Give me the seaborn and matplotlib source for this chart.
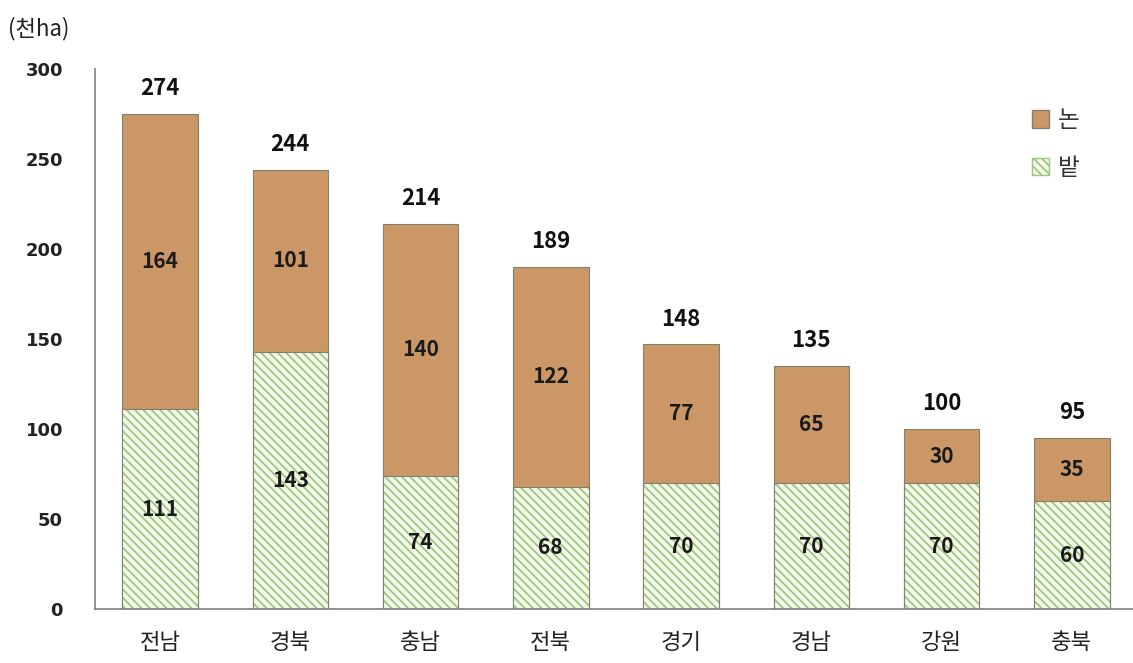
import matplotlib
matplotlib.use('Agg')
import matplotlib.pyplot as plt
import matplotlib.patches as mpatches
import seaborn as sns
import pandas as pd

regions = ['전남', '경북', '충남', '전북', '경기', '경남', '강원', '충북']
paddy = [164, 101, 140, 122, 77, 65, 30, 35]   # 논
field = [111, 143, 74, 68, 70, 70, 70, 60]     # 밭
totals = [274, 244, 214, 189, 148, 135, 100, 95]

paddy_color = '#CB9766'
field_face = '#F4F8EC'
field_hatch = '#9DC77A'
edge = '#80806E'

sns.set_theme(style='white')
plt.rcParams['font.family'] = ['Noto Sans CJK KR', 'DejaVu Sans']
plt.rcParams['hatch.linewidth'] = 1.3

df = pd.DataFrame({'region': regions, 'paddy': paddy, 'field': field})
df['stack'] = df['paddy'] + df['field']

fig = plt.figure(figsize=(11.33, 6.63), dpi=100)
ax = fig.add_axes([0.0838, 0.0814, 0.9162, 0.8146])

# total height bar (논 on top), then 밭 over it
sns.barplot(data=df, x='region', y='stack', color=paddy_color, width=0.58,
            edgecolor=edge, linewidth=0.8, saturation=1, ax=ax)
n = len(regions)
sns.barplot(data=df, x='region', y='field', color=field_face, width=0.58,
            edgecolor=field_hatch, linewidth=0, saturation=1, ax=ax)
for p in list(ax.patches[n:]):
    p.set_hatch('\\' * 4)
    p.set_edgecolor(field_hatch)
    p.set_linewidth(0)
    ax.add_patch(mpatches.Rectangle(p.get_xy(), p.get_width(), p.get_height(),
                                    fill=False, edgecolor=edge, linewidth=0.8))

for i in range(n):
    ax.text(i, field[i] / 2, str(field[i]), ha='center', va='center',
            fontsize=15, fontweight='bold', color='#1A1A1A')
    ax.text(i, field[i] + paddy[i] / 2, str(paddy[i]), ha='center', va='center',
            fontsize=15, fontweight='bold', color='#1A1A1A')
    ax.text(i, field[i] + paddy[i] + 14, str(totals[i]), ha='center', va='center',
            fontsize=16, fontweight='bold', color='#111111')

ax.set_xlim(-0.5, 7.47)
ax.set_ylim(0, 300)
ax.set_yticks([0, 50, 100, 150, 200, 250, 300])
ax.set_xlabel('')
ax.set_ylabel('')
sns.despine(ax=ax)
for s in ['left', 'bottom']:
    ax.spines[s].set_color('#7F7F7F')
    ax.spines[s].set_linewidth(1.2)
ax.tick_params(axis='y', direction='in', length=5, width=1, color='#7F7F7F',
               pad=23, labelsize=13)
ax.tick_params(axis='x', length=0, pad=16, labelsize=16, labelcolor='#222222')
for lbl in ax.get_yticklabels():
    lbl.set_fontweight('bold')
    lbl.set_color('#222222')
    lbl.set_family('DejaVu Sans')

fig.text(0.007, 0.957, '(천ha)', fontsize=16, color='#222222', va='center')

handles = [
    mpatches.Patch(facecolor=paddy_color, edgecolor=edge, label='논'),
    mpatches.Patch(facecolor=field_face, edgecolor=field_hatch, hatch='\\' * 4, label='밭'),
]
ax.legend(handles=handles, loc='upper left', bbox_to_anchor=(0.882, 0.965),
          frameon=False, fontsize=17, handlelength=0.75, handleheight=0.75,
          handletextpad=0.35, labelspacing=1.05, labelcolor='#333333')

fig.savefig('out.png', dpi=100)
